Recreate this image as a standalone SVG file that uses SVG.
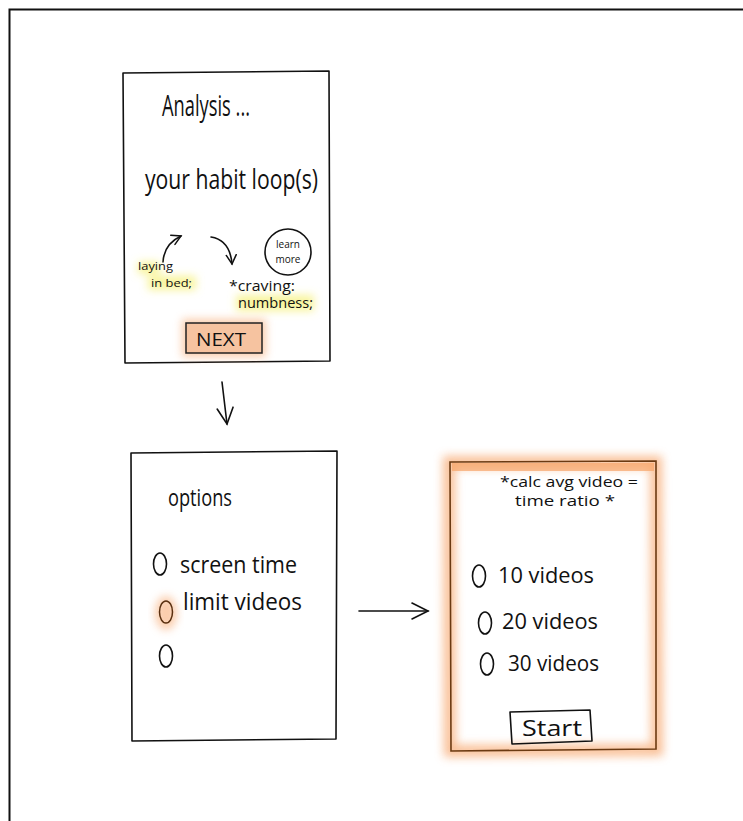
<svg xmlns="http://www.w3.org/2000/svg" width="743" height="821" viewBox="0 0 743 821">
<defs>
<style>
.ink{fill:none;stroke:#111;stroke-width:1.6;stroke-linecap:round;stroke-linejoin:round}
.t{font-family:"Open Sans","Liberation Sans",sans-serif;font-weight:400;fill:#111}
.glowO{fill:#f7a56a;opacity:0.55}
.glowY{fill:#f4ef5a;opacity:0.6}
</style>
<filter id="blur" x="-30%" y="-30%" width="160%" height="160%"><feGaussianBlur stdDeviation="4"/></filter>
<filter id="blur2" x="-10%" y="-10%" width="120%" height="120%"><feGaussianBlur stdDeviation="5"/></filter>
<marker id="ah" viewBox="0 0 12 12" refX="10" refY="6" markerWidth="12" markerHeight="12" markerUnits="userSpaceOnUse" orient="auto">
<path d="M1,1 L10,6 L1,11" fill="none" stroke="#111" stroke-width="1.5" stroke-linecap="round"/>
</marker>
<marker id="ahBig" viewBox="0 0 20 20" refX="18" refY="10" markerWidth="20" markerHeight="20" markerUnits="userSpaceOnUse" orient="auto">
<path d="M2,2 L18,10 L2,18" fill="none" stroke="#111" stroke-width="1.6" stroke-linecap="round"/>
</marker>
</defs>
<rect width="743" height="821" fill="#fff"/>
<path d="M9.5,821 V9.5 H743" fill="none" stroke="#111" stroke-width="2"/>

<g id="screen-analysis">
<path class="ink" d="M123,73 L329,71 L330,361 L125,363 Z" stroke-width="1.8"/>
<text class="t" x="162" y="116" font-size="29" textLength="88" lengthAdjust="spacingAndGlyphs">Analysis ...</text>
<text class="t" x="145" y="189" font-size="27" textLength="173" lengthAdjust="spacingAndGlyphs">your habit loop(s)</text>
<path class="ink" d="M163,262 Q164,244 181,236" marker-end="url(#ah)"/>
<path class="ink" d="M211,237 Q230,240 232,264" marker-end="url(#ah)"/>
<circle class="ink" cx="288" cy="252" r="23"/>
<text class="t" x="288" y="248" font-size="10" text-anchor="middle">learn</text>
<text class="t" x="288" y="263" font-size="10" text-anchor="middle">more</text>
<g filter="url(#blur)">
<rect class="glowY" x="138" y="262" width="22" height="12"/>
<rect class="glowY" x="148" y="276" width="48" height="14"/>
<rect class="glowY" x="236" y="295" width="78" height="16"/>
</g>
<text class="t" x="138" y="270" font-size="11.5" textLength="35" lengthAdjust="spacingAndGlyphs">laying</text>
<text class="t" x="151" y="287" font-size="11.5" textLength="41" lengthAdjust="spacingAndGlyphs">in bed;</text>
<text class="t" x="229" y="291" font-size="14" textLength="66" lengthAdjust="spacingAndGlyphs">*craving:</text>
<text class="t" x="238" y="308" font-size="14" textLength="75" lengthAdjust="spacingAndGlyphs">numbness;</text>
<g id="btn-next">
<rect x="182" y="319" width="84" height="38" class="glowO" filter="url(#blur)"/>
<rect x="186" y="323" width="76" height="30" fill="#f6c3a0" stroke="#222" stroke-width="1.5"/>
<text class="t" x="196" y="346" font-size="19" textLength="50" lengthAdjust="spacingAndGlyphs">NEXT</text>
</g>
</g>

<g id="screen-options">
<path class="ink" d="M131,453 L337,451 L336,739 L132,741 Z" stroke-width="1.8"/>
<text class="t" x="168" y="506" font-size="24" textLength="64" lengthAdjust="spacingAndGlyphs">options</text>
<ellipse class="ink" cx="160" cy="564" rx="6.5" ry="11"/>
<text class="t" x="180" y="573" font-size="24" textLength="117" lengthAdjust="spacingAndGlyphs">screen time</text>
<ellipse cx="166" cy="613" rx="11" ry="17" class="glowO" filter="url(#blur)"/>
<ellipse cx="166" cy="612" rx="6.5" ry="11" fill="none" stroke="#5a3010" stroke-width="1.5"/>
<text class="t" x="183" y="610" font-size="24" textLength="119" lengthAdjust="spacingAndGlyphs">limit videos</text>
<ellipse class="ink" cx="166" cy="656" rx="6.5" ry="11"/>
</g>

<g id="screen-calc">
<path d="M449,462 L656,462 L657,750 L450,751 Z" fill="none" stroke="#f7a56a" stroke-width="12" opacity="0.7" filter="url(#blur2)"/>
<rect x="452" y="463" width="202" height="8" fill="#f7a56a" opacity="0.7"/>
<path d="M450,462 L656,461 L656,749 L451,751 Z" fill="none" stroke="#6b3a12" stroke-width="1.6"/>
<text class="t" x="500" y="487" font-size="14" textLength="138" lengthAdjust="spacingAndGlyphs">*calc avg video =</text>
<text class="t" x="515" y="506" font-size="14" textLength="100" lengthAdjust="spacingAndGlyphs">time ratio *</text>
<ellipse class="ink" cx="479" cy="576" rx="6.5" ry="11"/>
<text class="t" x="498" y="583" font-size="22" textLength="96" lengthAdjust="spacingAndGlyphs">10 videos</text>
<ellipse class="ink" cx="485" cy="623" rx="6.5" ry="11"/>
<text class="t" x="502" y="629" font-size="22" textLength="96" lengthAdjust="spacingAndGlyphs">20 videos</text>
<ellipse class="ink" cx="487" cy="664" rx="6.5" ry="11"/>
<text class="t" x="508" y="671" font-size="22" textLength="91" lengthAdjust="spacingAndGlyphs">30 videos</text>
<g id="btn-start">
<path class="ink" d="M510,712 L590,710 L592,741 L512,744 Z" stroke-width="1.4"/>
<text class="t" x="522" y="736" font-size="21" textLength="60" lengthAdjust="spacingAndGlyphs">Start</text>
</g>
</g>

<g id="connectors">
<path class="ink" d="M222,382 L227,424" marker-end="url(#ahBig)"/>
<path class="ink" d="M359,611 L428,611" marker-end="url(#ahBig)"/>
</g>
</svg>
